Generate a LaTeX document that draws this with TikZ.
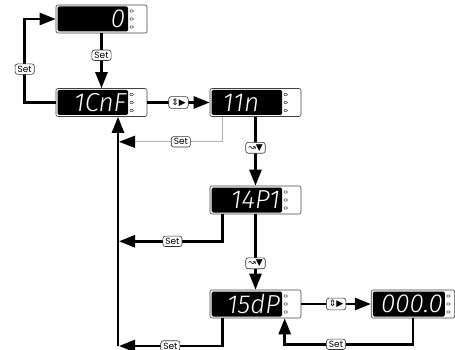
\documentclass[tikz,border=0pt]{standalone}
\usepackage{fontspec}
\newfontfamily\keyfont{Poppins}
\newfontfamily\symfont{DejaVu Sans}
\newfontfamily\segfont{Fira Sans}[UprightFont={* Light},ItalicFont={* Light Italic}]
\usetikzlibrary{arrows.meta,calc}

\tikzset{
  disp/.style={draw=black!75,line width=.6pt,rounded corners=2pt,
    minimum width=91pt,minimum height=28pt,inner sep=0pt,
    path picture={
      \fill[black,rounded corners=1.5pt]
        ([shift={(1.5pt,-1.5pt)}]path picture bounding box.north west) rectangle
        ([shift={(-#1pt,1.5pt)}]path picture bounding box.south east);
      \foreach \dy in {-8,0,8}
        \draw[line width=.5pt]
          ([shift={(-#1pt+2pt,\dy pt-2pt)}]path picture bounding box.east)
          -- ++(0pt,4pt) -- ++(4.5pt,-2pt) -- cycle;
    }},
  disp/.default=19,
  digits/.style={inner sep=0pt,text=white,
    font=\fontsize{26}{26}\selectfont\segfont\itshape},
  flow/.style={line width=2.6pt,-{Triangle[length=16pt,width=12pt]}},
  back/.style={flow,shorten >=1pt},
  key/.style={draw=black!80,text=black,line width=.6pt,rounded corners=2.5pt,
    fill=white,inner xsep=2.5pt,inner ysep=2pt,
    font=\keyfont\fontsize{9}{9}\selectfont}
}

\begin{document}
\begin{tikzpicture}[x=1pt,y=-1pt]
  \useasboundingbox (0,0) rectangle (455,350);

  % displays
  \node[disp] (zero) at (101.5,19) {};
  \node[disp] (cnf) at (101.5,102.5) {};
  \node[disp] (in) at (255.5,102.5) {};
  \node[disp] (ptype) at (255.5,200) {};
  \node[disp] (dp) at (255.5,304) {};
  \node[disp=10,minimum width=83.5pt] (val) at (413,304) {};

  \node[digits,anchor=east] (zero-t) at ([xshift=-22pt]zero.east) {0};
  \node[digits,anchor=east] (cnf-t) at ([xshift=-21pt]cnf.east) {1CnF};
  \node[digits,anchor=east] (in-t) at ([xshift=-42pt]in.east) {11n};
  \node[digits,anchor=east] (ptype-t) at ([xshift=-21pt]ptype.east) {14P1};
  \node[digits,anchor=east] (dp-t) at ([xshift=-21pt]dp.east) {15dP};
  \node[digits,anchor=east] (val-t) at ([xshift=-12pt]val.east) {000.0};

  \coordinate (bus) at (118,346);

  % connectors
  \draw[flow] (zero) -- (cnf) node[key,pos=.4] (set-a) {Set};
  \draw[flow] (cnf.west) -- ++(-31,0) |- (zero.west)
    node[key,pos=.2] (set-b) {Set};
  \draw[flow] (cnf) -- (in) node[key,midway] (key-a) {\symfont ⇕▶};
  \draw[line width=1.2pt,gray!60,shorten >=1pt,
    -{Triangle[length=16pt,width=12pt,black]}]
    ([xshift=13pt]in.south west) |- ($(in.south -| bus)+(0,25)$)
    node[key,pos=.7] (set-c) {Set};
  \draw[flow] (in) -- (ptype) node[key,pos=.45] (key-b) {\symfont ↝▼};
  \draw[back] ([xshift=13pt]ptype.south west) |- ($(ptype.south -| bus)+(0,27)$)
    node[key,pos=.74] (set-d) {Set};
  \draw[flow] (ptype) -- (dp) node[key,pos=.65] (key-c) {\symfont ↝▼};
  \draw[back] ([xshift=13pt]dp.south west) |- (bus)
    node[key,pos=.75] (set-e) {Set};
  \draw[flow] (bus) -- (bus |- cnf.south);
  \draw[flow] (dp) -- (val) node[key,midway] (key-d) {\symfont ⇕▶};
  \draw[flow] ([xshift=42pt]val.south west) -- ++(0,26) -| ([xshift=75pt]dp.south west)
    node[key,pos=.3] (set-f) {Set};
\end{tikzpicture}
\end{document}
